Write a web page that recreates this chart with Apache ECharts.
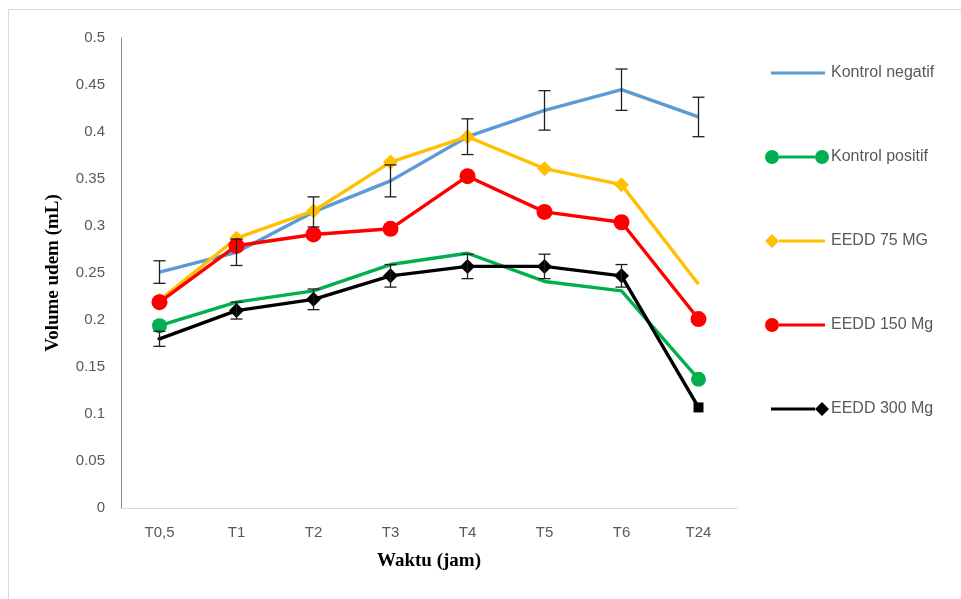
<!DOCTYPE html>
<html>
<head>
<meta charset="utf-8">
<title>Volume udem</title>
<script src="https://cdn.jsdelivr.net/npm/echarts@6/dist/echarts.min.js"></script>
<style>
  html, body { margin: 0; padding: 0; background: #fff; }
  #main { width: 961px; height: 599px; }
</style>
</head>
<body>
<div id="main"></div>
<script>
// data
var categories = ['T0,5', 'T1', 'T2', 'T3', 'T4', 'T5', 'T6', 'T24'];
var kontrolNegatif = [0.251, 0.272, 0.315, 0.348, 0.395, 0.423, 0.445, 0.416];
var kontrolNegatifErr = [0.012, 0.014, 0.016, 0.017, 0.019, 0.021, 0.022, 0.021];
var kontrolPositif = [0.194, 0.219, 0.231, 0.259, 0.271, 0.241, 0.231, 0.137];
var eedd75 = [0.221, 0.287, 0.316, 0.368, 0.395, 0.361, 0.344, 0.238];
var eedd150 = [0.219, 0.279, 0.291, 0.297, 0.353, 0.315, 0.304, 0.201];
var eedd300 = [0.180, 0.210, 0.222, 0.247, 0.257, 0.257, 0.247, 0.107];
var eedd300Err = [0.008, 0.009, 0.011, 0.012, 0.013, 0.013, 0.012, 0];
var seriesNames = ['Kontrol negatif', 'Kontrol positif', 'EEDD 75 MG', 'EEDD 150 Mg', 'EEDD 300 Mg'];

var chart = echarts.init(document.getElementById('main'), null, { renderer: 'canvas' });

var last = categories.length - 1;

// legend icons drawn as paths in a 64x14 box (tiny dots pin the bounding box)
var pin = 'M0 0L0.1 0L0.1 0.1Z M63.9 13.9L64 13.9L64 14Z ';
var iconNeg = 'path://' + pin + 'M6 5.5L60 5.5L60 8.5L6 8.5Z';
var iconPos = 'path://M0 7A7 7 0 1 1 14 7A7 7 0 1 1 0 7Z M14 5.5L50 5.5L50 8.5L14 8.5Z M50 7A7 7 0 1 1 64 7A7 7 0 1 1 50 7Z';
var icon75 = 'path://' + pin + 'M0 7L7 0L14 7L7 14Z M14 5.5L60 5.5L60 8.5L14 8.5Z';
var icon150 = 'path://' + pin + 'M0 7A7 7 0 1 1 14 7A7 7 0 1 1 0 7Z M14 5.5L60 5.5L60 8.5L14 8.5Z';
var icon300 = 'path://' + pin + 'M6 5.5L50 5.5L50 8.5L6 8.5Z M50 7L57 0L64 7L57 14Z';

function errData(vals, errs) {
  var arr = [];
  for (var i = 0; i < vals.length; i++) {
    arr.push([i, vals[i], errs[i]]);
  }
  return arr;
}

function renderErr(params, api) {
  var x = api.value(0);
  var v = api.value(1);
  var e = api.value(2);
  if (!e) return;
  var top = api.coord([x, v + e]);
  var bot = api.coord([x, v - e]);
  var w = 6;
  var st = { stroke: '#1f1f1f', lineWidth: 1.3 };
  return {
    type: 'group',
    children: [
      { type: 'line', shape: { x1: top[0], y1: top[1], x2: bot[0], y2: bot[1] }, style: st },
      { type: 'line', shape: { x1: top[0] - w, y1: top[1], x2: top[0] + w, y2: top[1] }, style: st },
      { type: 'line', shape: { x1: bot[0] - w, y1: bot[1], x2: bot[0] + w, y2: bot[1] }, style: st }
    ]
  };
}

var option = {
  backgroundColor: '#fff',
  animation: false,
  graphic: [
    {
      type: 'rect',
      silent: true,
      z: -10,
      shape: { x: 8.5, y: 9.5, width: 1000, height: 1000 },
      style: { fill: 'none', stroke: '#d9d9d9', lineWidth: 1 }
    }
  ],
  legend: {
    orient: 'vertical',
    left: 765,
    top: 65,
    padding: 0,
    itemWidth: 64,
    itemHeight: 14,
    itemGap: 68,
    selectedMode: false,
    itemStyle: { borderWidth: 0 },
    textStyle: {
      color: '#595959',
      fontSize: 16,
      fontFamily: 'Liberation Sans',
      padding: [0, 0, 0, -3]
    },
    data: [
      { name: seriesNames[0], icon: iconNeg },
      { name: seriesNames[1], icon: iconPos },
      { name: seriesNames[2], icon: icon75 },
      { name: seriesNames[3], icon: icon150 },
      { name: seriesNames[4], icon: icon300 }
    ]
  },
  grid: {
    left: 121,
    right: 224,
    top: 38,
    bottom: 91
  },
  xAxis: {
    type: 'category',
    data: categories,
    boundaryGap: true,
    name: 'Waktu (jam)',
    nameLocation: 'middle',
    nameGap: 44,
    nameTextStyle: {
      fontFamily: 'Liberation Serif',
      fontWeight: 'bold',
      fontSize: 19,
      color: '#000'
    },
    axisLine: { lineStyle: { color: '#d9d9d9', width: 1 } },
    axisTick: { show: false },
    axisLabel: {
      margin: 17,
      color: '#595959',
      fontSize: 15,
      fontFamily: 'Liberation Sans'
    },
    splitLine: { show: false }
  },
  yAxis: {
    type: 'value',
    min: 0,
    max: 0.5,
    interval: 0.05,
    name: 'Volume udem (mL)',
    nameLocation: 'middle',
    nameGap: 58,
    nameTextStyle: {
      fontFamily: 'Liberation Serif',
      fontWeight: 'bold',
      fontSize: 19,
      color: '#000'
    },
    axisLine: { show: true, lineStyle: { color: '#868686', width: 1 } },
    axisTick: { show: false },
    axisLabel: {
      margin: 16,
      color: '#595959',
      fontSize: 15,
      fontFamily: 'Liberation Sans',
      formatter: function (v) { return String(+v.toFixed(2)); }
    },
    splitLine: { show: false }
  },
  series: [
    {
      name: seriesNames[0],
      type: 'line',
      data: kontrolNegatif,
      color: '#5B9BD5',
      symbol: 'none',
      lineStyle: { width: 3.4, color: '#5B9BD5' },
      z: 2
    },
    {
      name: seriesNames[1],
      type: 'line',
      data: kontrolPositif,
      color: '#00B050',
      symbol: 'circle',
      symbolSize: function (v, p) { return (p.dataIndex === 0 || p.dataIndex === last) ? 15 : 0; },
      showAllSymbol: true,
      itemStyle: { color: '#00B050', borderWidth: 0 },
      lineStyle: { width: 3.4, color: '#00B050' },
      z: 2
    },
    {
      name: seriesNames[2],
      type: 'line',
      data: eedd75,
      color: '#FFC000',
      symbol: 'diamond',
      symbolSize: function (v, p) { return p.dataIndex === last ? 0 : 15; },
      showAllSymbol: true,
      itemStyle: { color: '#FFC000', borderWidth: 0 },
      lineStyle: { width: 3.4, color: '#FFC000' },
      z: 2
    },
    {
      name: seriesNames[3],
      type: 'line',
      data: eedd150,
      color: '#FF0000',
      symbol: 'circle',
      symbolSize: 16,
      showAllSymbol: true,
      itemStyle: { color: '#FF0000', borderWidth: 0 },
      lineStyle: { width: 3.4, color: '#FF0000' },
      z: 2
    },
    {
      name: seriesNames[4],
      type: 'line',
      data: eedd300,
      color: '#000000',
      symbol: function (v, p) { return p.dataIndex === last ? 'rect' : 'diamond'; },
      symbolSize: function (v, p) {
        if (p.dataIndex === 0) return 5;
        return p.dataIndex === last ? 10 : 15;
      },
      showAllSymbol: true,
      itemStyle: { color: '#000000', borderWidth: 0 },
      lineStyle: { width: 3.4, color: '#000000' },
      z: 2
    },
    {
      name: 'errNeg',
      type: 'custom',
      renderItem: renderErr,
      data: errData(kontrolNegatif, kontrolNegatifErr),
      encode: { x: 0, y: 1 },
      z: 5,
      silent: true
    },
    {
      name: 'err300',
      type: 'custom',
      renderItem: renderErr,
      data: errData(eedd300, eedd300Err),
      encode: { x: 0, y: 1 },
      z: 5,
      silent: true
    }
  ]
};

chart.setOption(option);
</script>
</body>
</html>
